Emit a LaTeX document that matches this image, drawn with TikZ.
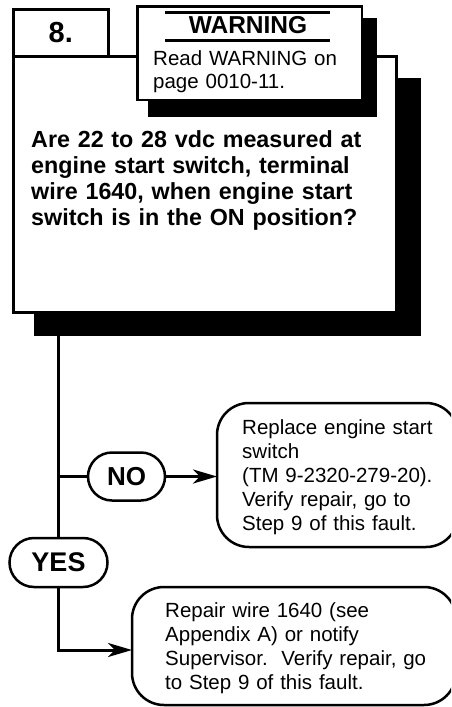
\documentclass[tikz,border=0pt]{standalone}
\usepackage{fontspec}
\setmainfont{Liberation Sans}
\usetikzlibrary{arrows.meta,shapes.misc}
\tikzset{
  frame/.style={draw, line width=3pt, fill=white, inner sep=0pt, outer sep=0pt},
  wbox/.style={draw, line width=2.5pt, fill=white, inner sep=0pt, outer sep=0pt},
  pill/.style={draw, line width=2.5pt, fill=white, rounded rectangle, inner sep=0pt, outer sep=0pt},
  actbox/.style={draw, line width=2.5pt, fill=white, rounded corners=32pt, inner sep=0pt, outer sep=0pt},
  shadowfill/.style={fill=black},
  body/.style={anchor=base west, inner sep=0pt, text width=420pt, align=left},
  conn/.style={line width=3pt},
  arr/.style={line width=3pt, -{Stealth[length=24pt, width=14pt, inset=7pt]}},
}
\begin{document}
\begin{tikzpicture}[x=1pt,y=-1pt]
\useasboundingbox (0,0) rectangle (451,707);
\clip (0,0) rectangle (451,707);
% main box + shadow
\fill[shadowfill] (34,78) rectangle (421,336);
\node[frame, anchor=north west, minimum width=383.5pt, minimum height=255.5pt] (main) at (13,56.5) {};
% step number box
\node[frame, anchor=north west, minimum width=95.5pt, minimum height=47.5pt,
      font=\bfseries\fontsize{29}{30}\selectfont] (num) at (13,9) {8.};
% warning box + shadow
\fill[shadowfill] (148,18) rectangle (377,117);
\node[wbox, anchor=north west, minimum width=224.5pt, minimum height=93.5pt] (warn) at (137.25,6.25) {};
\draw[line width=2.5pt] (165,12.7) -- (330,12.7);
\draw[line width=2.5pt] (165,40.3) -- (330,40.3);
\node[anchor=base, inner sep=0pt, font=\bfseries\fontsize{24.5}{26}\selectfont] (warnt) at (248,33) {WARNING};
\node[body, font=\fontsize{20.5}{23}\selectfont] (warnb) at (153,65) {Read WARNING on\\page 0010-11.};
% question
\node[body, font=\bfseries\fontsize{23.3}{26.3}\selectfont] (q) at (31,147)
  {Are 22 to 28 vdc measured at\\engine start switch, terminal\\wire 1640, when engine start\\switch is in the ON position?};
% answer pills
\node[pill, minimum width=77pt, minimum height=48pt, font=\bfseries\fontsize{26}{28}\selectfont] (no) at (126.5,476.5) {NO};
\node[pill, minimum width=98pt, minimum height=49pt, font=\bfseries\fontsize{27}{28}\selectfont] (yes) at (58.5,562.5) {YES};
% action boxes
\node[actbox, minimum width=241pt, minimum height=144pt] (act1) at (337.5,475) {};
\node[body, font=\fontsize{20.5}{24}\selectfont] (act1t) at (242,434)
  {Replace engine start\\switch\\(TM 9-2320-279-20).\\Verify repair, go to\\Step 9 of this fault.};
\node[actbox, minimum width=324pt, minimum height=118pt] (act2) at (294,646) {};
\node[body, font=\fontsize{20.5}{24}\selectfont] (act2t) at (165,617)
  {Repair wire 1640 (see\\Appendix A) or notify\\Supervisor.\ \ Verify repair, go\\to Step 9 of this fault.};
% connectors
\draw[conn] (main.south -| yes.north) -- (yes.north);
\draw[conn] (yes.north |- no.west) -- (no.west);
\draw[arr] (no.east) -- (no.east -| act1.west);
\draw[arr] (yes.south) |- ([yshift=-4pt]act2.west);
\end{tikzpicture}
\end{document}
